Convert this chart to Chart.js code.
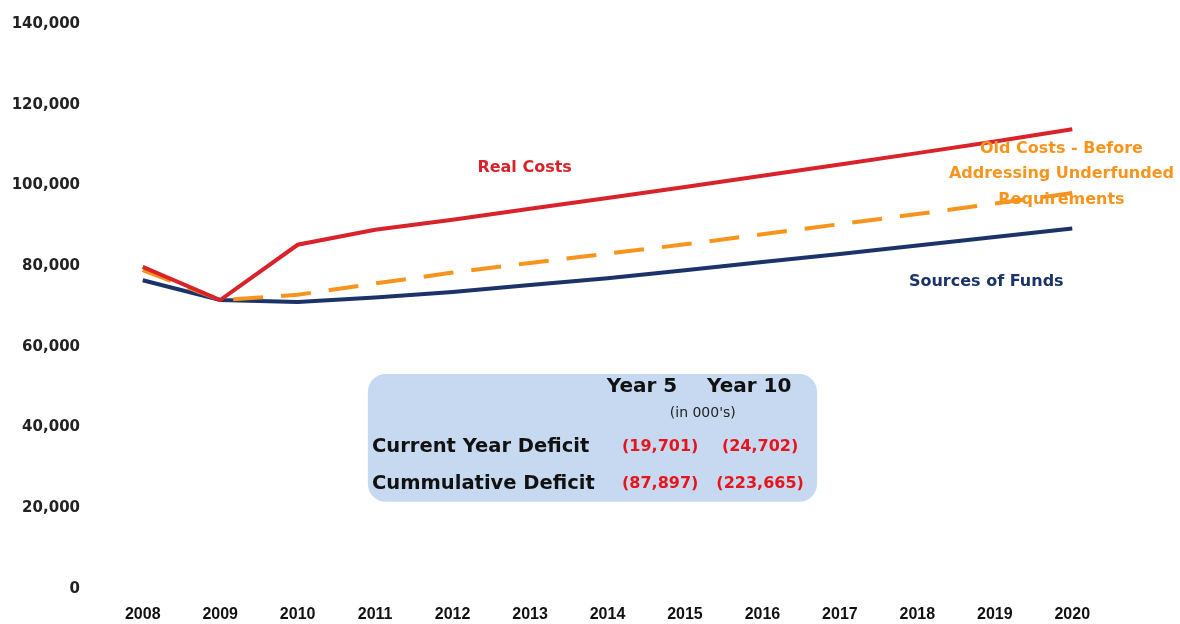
<!DOCTYPE html>
<html>
<head>
<meta charset="utf-8">
<script src="https://cdn.jsdelivr.net/npm/chart.js@4"></script>
<style>
  html, body { margin: 0; padding: 0; background: #fff; }
  #wrap { width: 1180px; height: 624px; }
</style>
</head>
<body>
<div id="wrap"><canvas id="myChart"></canvas></div>
<script>
const years = ['2008','2009','2010','2011','2012','2013','2014','2015','2016','2017','2018','2019','2020']
const realCosts = [79800, 71600, 85300, 89000, 91500, 94200, 96900, 99600, 102400, 105200, 108000, 110900, 113900]
const oldCosts = [79000, 71600, 72900, 75700, 78400, 80800, 83100, 85400, 87900, 90400, 92900, 95500, 98100]
const sourcesOfFunds = [76500, 71600, 71100, 72200, 73600, 75300, 77000, 79000, 81000, 83000, 85100, 87200, 89300]
const yTicks = [0, 20000, 40000, 60000, 80000, 100000, 120000, 140000]

// deficit summary table
const deficitHeads = ['Year 5', 'Year 10']
const deficitRows = ['Current Year Deficit', 'Cummulative Deficit']
const deficitYear5 = ['(19,701)', '(87,897)']
const deficitYear10 = ['(24,702)', '(223,665)']

const RED = '#d8232a'
const ORANGE = '#f7941d'
const NAVY = '#1b3368'

const dejaBold = (size) => `bold ${size}px "DejaVu Sans", sans-serif`

const notes = {
  id: 'notes',
  afterDraw(chart) {
    const ctx = chart.ctx
    const x = chart.scales.x
    const y = chart.scales.y
    const px = (i) => x.getPixelForValue(i)
    const py = (v) => y.getPixelForValue(v)

    ctx.save()

    // series labels
    ctx.textAlign = 'center'
    ctx.textBaseline = 'middle'
    ctx.font = dejaBold(16)
    ctx.fillStyle = RED
    ctx.fillText('Real Costs', px(4.93), py(104300))
    ctx.fillStyle = NAVY
    ctx.fillText('Sources of Funds', px(10.89), py(76100))
    ctx.fillStyle = ORANGE
    ctx.fillText('Old Costs - Before', px(11.86), py(109000))
    ctx.fillText('Addressing Underfunded', px(11.86), py(102800))
    ctx.fillText('Requirements', px(11.86), py(96400))

    // summary box
    const bx = px(2.906), bw = px(8.706) - bx
    const by = py(53300), bh = py(21600) - by
    ctx.fillStyle = '#c6d9f0'
    ctx.beginPath()
    ctx.roundRect(bx, by, bw, bh, 18)
    ctx.fill()

    ctx.fillStyle = '#111'
    ctx.font = dejaBold(20)
    ctx.fillText(deficitHeads[0], px(6.445), py(50100))
    ctx.fillText(deficitHeads[1], px(7.83), py(50100))
    ctx.font = '14px "DejaVu Sans", sans-serif'
    ctx.fillStyle = '#222'
    ctx.fillText("(in 000's)", px(7.23), py(43600))

    const rowVals = [35200, 26000]
    deficitRows.forEach((label, i) => {
      ctx.textAlign = 'left'
      ctx.fillStyle = '#111'
      ctx.font = dejaBold(19.5)
      ctx.fillText(label, px(2.96), py(rowVals[i]))
      ctx.textAlign = 'center'
      ctx.fillStyle = '#e8141c'
      ctx.font = dejaBold(16)
      ctx.fillText(deficitYear5[i], px(6.68), py(rowVals[i]))
      ctx.fillText(deficitYear10[i], px(7.97), py(rowVals[i]))
    })

    ctx.restore()
  }
}

const ctx = document.getElementById('myChart')

new Chart(ctx, {
  type: 'line',
  data: {
    labels: years,
    datasets: [
      {
        label: 'Real Costs',
        data: realCosts,
        borderColor: RED,
        borderWidth: 4,
        pointRadius: 0,
        tension: 0
      },
      {
        label: 'Old Costs - Before Addressing Underfunded Requirements',
        data: oldCosts,
        borderColor: ORANGE,
        borderWidth: 4,
        borderDash: [30, 18],
        pointRadius: 0,
        tension: 0
      },
      {
        label: 'Sources of Funds',
        data: sourcesOfFunds,
        borderColor: NAVY,
        borderWidth: 4,
        pointRadius: 0,
        tension: 0
      }
    ]
  },
  options: {
    responsive: true,
    maintainAspectRatio: false,
    animation: false,
    layout: { padding: { top: 24, right: 69, left: 0, bottom: 0 } },
    plugins: {
      legend: { display: false },
      tooltip: { enabled: false }
    },
    scales: {
      x: {
        offset: true,
        afterFit: (scale) => { scale.height = 35 },
        grid: { display: false, drawTicks: false },
        border: { display: false },
        ticks: {
          color: '#111',
          padding: 16,
          maxRotation: 0,
          font: { family: '"Liberation Sans", Arial, sans-serif', weight: 'bold', size: 16 }
        }
      },
      y: {
        min: 0,
        max: 140000,
        afterFit: (scale) => {
          scale.width = 104
          scale.paddingTop = 0
          scale.paddingBottom = 0
        },
        afterBuildTicks: (scale) => { scale.ticks = yTicks.map(v => ({ value: v })) },
        grid: { display: false, drawTicks: false },
        border: { display: false },
        ticks: {
          color: '#222',
          padding: 24,
          font: { family: '"DejaVu Sans", sans-serif', weight: 'bold', size: 15 },
          callback: (v) => v.toLocaleString('en-US')
        }
      }
    }
  },
  plugins: [notes]
})
</script>
</body>
</html>
